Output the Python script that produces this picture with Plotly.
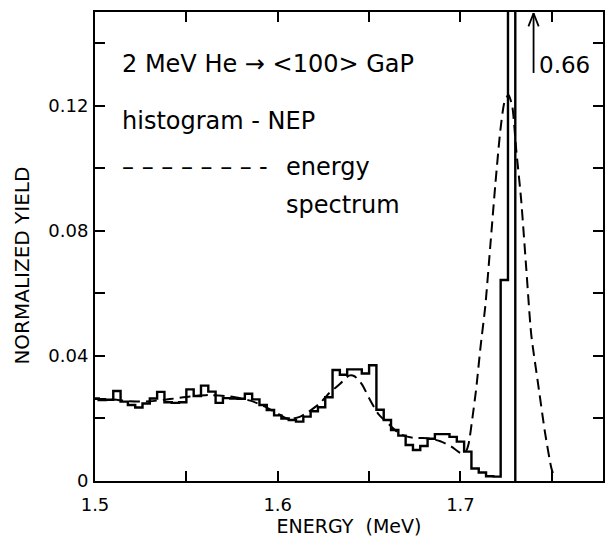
import numpy as np
import plotly.graph_objects as go

# NEP histogram: uniform bins 0.004 MeV wide, first bin centred at 1.500 MeV
bin_width = 0.004
first_center = 1.500
nep_yield = [
    0.0264, 0.0259, 0.0260, 0.0288, 0.0254, 0.0243, 0.0235, 0.0248, 0.0264, 0.0285,
    0.0252, 0.0250, 0.0252, 0.0293, 0.0272, 0.0305, 0.0286, 0.0250, 0.0265, 0.0264,
    0.0263, 0.0279, 0.0261, 0.0243, 0.0227, 0.0210, 0.0200, 0.0195, 0.0190, 0.0206,
    0.0223, 0.0236, 0.0268, 0.0355, 0.0340, 0.0357, 0.0357, 0.0344, 0.0370, 0.0228,
    0.0195, 0.0163, 0.0145, 0.0115, 0.0099, 0.0112, 0.0135, 0.0150, 0.0150, 0.0141,
    0.0126, 0.0094, 0.0040, 0.0027, 0.0015, 0.0014, 0.0643, 0.66,
]

# measured energy spectrum (dashed curve)
spectrum_energy = [
    1.500, 1.508, 1.519, 1.530, 1.541, 1.552, 1.563, 1.574, 1.585, 1.593,
    1.601, 1.606, 1.612, 1.617, 1.623, 1.628, 1.634, 1.639, 1.642, 1.646,
    1.650, 1.655, 1.662, 1.667, 1.674, 1.682, 1.689, 1.695, 1.700, 1.703,
    1.7045, 1.7065, 1.7087, 1.711, 1.7136, 1.7163, 1.7191, 1.7218, 1.724, 1.7262,
    1.7283, 1.7305, 1.7332, 1.736, 1.7387, 1.7425, 1.7463, 1.7496, 1.7512,
]
spectrum_yield = [
    0.0262, 0.0262, 0.0255, 0.0255, 0.0262, 0.0270, 0.0275, 0.0270, 0.0257, 0.0238,
    0.0212, 0.0198, 0.0205, 0.0222, 0.0248, 0.0280, 0.0310, 0.0337, 0.0335, 0.0310,
    0.0265, 0.0215, 0.0175, 0.0150, 0.0138, 0.0137, 0.0127, 0.0110, 0.0090, 0.0095,
    0.0120, 0.0200, 0.0300, 0.0430, 0.0560, 0.0750, 0.0950, 0.1120, 0.1210, 0.1235,
    0.1200, 0.1060, 0.0900, 0.0680, 0.0470, 0.0310, 0.0154, 0.0045, 0.0013,
]

# off-scale peak marker
peak_arrow_energy = 1.740
peak_label = "0.66"

x_range = [1.5, 1.778]
y_range = [0.0, 0.15]

FONT = "DejaVu Sans, sans-serif"
TEXT_SIZE = 24

# step outline of the histogram, closed down to zero after the last bin
left_edges = first_center - bin_width / 2 + bin_width * np.arange(len(nep_yield))
right_end = left_edges[-1] + bin_width
x_hist = list(left_edges) + [right_end, right_end]
y_hist = list(nep_yield) + [nep_yield[-1], 0.0]

fig = go.Figure()
fig.add_trace(go.Scatter(
    x=x_hist, y=y_hist, mode="lines", line_shape="hv",
    line=dict(color="black", width=2.4), showlegend=False,
))
fig.add_trace(go.Scatter(
    x=spectrum_energy, y=spectrum_yield, mode="lines", line_shape="spline",
    line=dict(color="black", width=2, dash="11px,6px", smoothing=0.6),
    showlegend=False,
))

# arrow pointing to the off-scale histogram bin
y_top = y_range[1] - 0.0004
shaft_bottom = 0.1305
head_dx = 0.0028
head_dy = 0.0042
for x0, y0, x1, y1 in [
    (peak_arrow_energy, shaft_bottom, peak_arrow_energy, y_top),
    (peak_arrow_energy - head_dx, y_top - head_dy, peak_arrow_energy, y_top),
    (peak_arrow_energy + head_dx, y_top - head_dy, peak_arrow_energy, y_top),
]:
    fig.add_shape(type="line", xref="x", yref="y", x0=x0, y0=y0, x1=x1, y1=y1,
                  line=dict(color="black", width=1.8))

fig.add_annotation(x=peak_arrow_energy + 0.0020, y=0.1330, xref="x", yref="y",
                   text=peak_label, showarrow=False, xanchor="left", yanchor="middle",
                   font=dict(size=23, color="black", family=FONT))

# descriptive text block inside the plot
text_lines = [
    (0.049, 0.890, "2 MeV He \u2192 <100> GaP"),
    (0.049, 0.767, "histogram - NEP"),
    (0.049, 0.670, "\u2013 \u2013 \u2013 \u2013 \u2013 \u2013 \u2013"),
    (0.318, 0.670, "-"),
    (0.3725, 0.670, "energy"),
    (0.3725, 0.588, "spectrum"),
]
for xp, yp, txt in text_lines:
    fig.add_annotation(x=xp, y=yp, xref="paper", yref="paper", text=txt,
                       showarrow=False, xanchor="left", yanchor="middle",
                       font=dict(size=TEXT_SIZE, color="black", family=FONT))

# y-axis title
fig.add_annotation(x=-0.143, y=0.46, xref="paper", yref="paper",
                   text="NORMALIZED YIELD", showarrow=False, textangle=-90,
                   xanchor="center", yanchor="middle",
                   font=dict(size=20, color="black", family=FONT))

axis_common = dict(
    showline=True, linecolor="black", linewidth=2, mirror="allticks",
    ticks="inside", ticklen=10, tickwidth=2, tickcolor="black",
    showgrid=False, zeroline=False,
    tickfont=dict(size=18, color="black", family=FONT),
)

fig.update_xaxes(
    range=x_range, tickmode="linear", tick0=1.5, dtick=0.1,
    minor=dict(dtick=0.05, ticks="inside", ticklen=10, tickwidth=2, tickcolor="black"),
    ticklabelstandoff=6,
    title=dict(text="ENERGY  (MeV)", font=dict(size=19, color="black", family=FONT),
               standoff=4),
    **axis_common,
)
fig.update_yaxes(
    range=y_range, tickmode="linear", tick0=0, dtick=0.04,
    minor=dict(dtick=0.02, ticks="inside", ticklen=10, tickwidth=2, tickcolor="black"),
    ticklabelstandoff=1,
    **axis_common,
)

fig.update_layout(
    width=607, height=541,
    margin=dict(l=95, r=2, t=12, b=60),
    paper_bgcolor="white", plot_bgcolor="white",
    font=dict(family=FONT, color="black"),
)

fig.write_html("out.html")
